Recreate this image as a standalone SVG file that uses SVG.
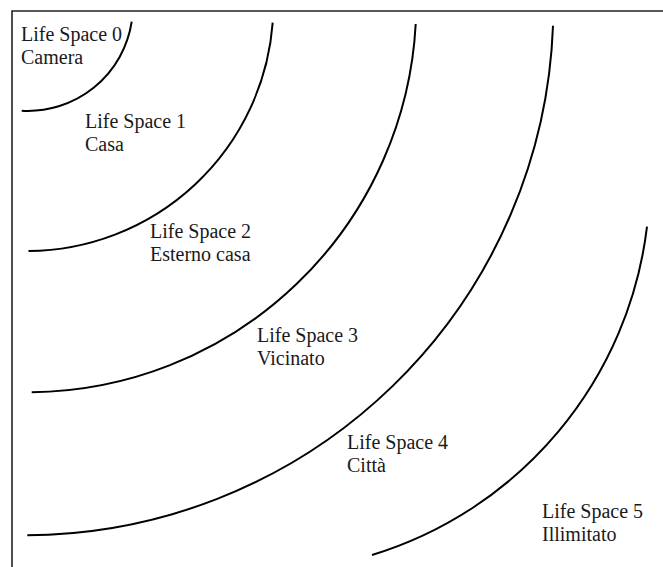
<svg xmlns="http://www.w3.org/2000/svg" width="663" height="567" viewBox="0 0 663 567">
  <style>
    .frame { fill: none; stroke: #222; stroke-width: 1.6; }
    .arc { fill: none; stroke: #000; stroke-width: 2; }
    .lbl { font-family: "Liberation Serif", "Times New Roman", serif; font-size: 20px; fill: #1a1a1a; }
  </style>
  <rect width="663" height="567" fill="#fff"/>
  <path class="frame" d="M12 567 V11 H663"/>
  <g id="space0">
    <path class="arc" d="M131.7 21.7 A105 105 0 0 1 21.7 110.7"/>
    <text class="lbl" x="21" y="41">Life Space 0</text>
    <text class="lbl" x="21" y="64">Camera</text>
  </g>
  <g id="space1">
    <path class="arc" d="M272.7 22.7 A247 247 0 0 1 28.5 251"/>
    <text class="lbl" x="85" y="128">Life Space 1</text>
    <text class="lbl" x="85" y="151">Casa</text>
  </g>
  <g id="space2">
    <path class="arc" d="M415.7 24 A389 389 0 0 1 31.7 392.3"/>
    <text class="lbl" x="150" y="238">Life Space 2</text>
    <text class="lbl" x="150" y="261">Esterno casa</text>
  </g>
  <g id="space3">
    <path class="arc" d="M553 25.7 A529 529 0 0 1 27.3 535.3"/>
    <text class="lbl" x="257" y="342">Life Space 3</text>
    <text class="lbl" x="257" y="365">Vicinato</text>
  </g>
  <g id="space4">
    <path class="arc" d="M647 226.7 A392 392 0 0 1 372 555"/>
    <text class="lbl" x="347" y="449">Life Space 4</text>
    <text class="lbl" x="347" y="472">Città</text>
  </g>
  <g id="space5">
    <text class="lbl" x="542" y="518">Life Space 5</text>
    <text class="lbl" x="542" y="541">Illimitato</text>
  </g>
  <g id="connectors"></g>
</svg>
